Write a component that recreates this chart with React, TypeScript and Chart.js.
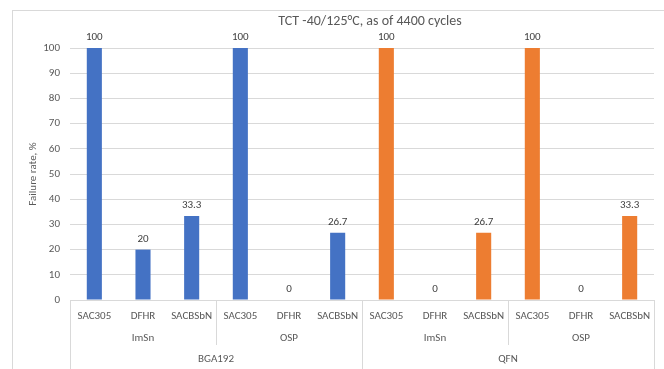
import React, { useEffect, useRef } from "react";
import { Chart, registerables } from "chart.js";

Chart.register(...registerables);

// Alloys per board finish, finishes per package
const alloys = ["SAC305", "DFHR", "SACBSbN", "SAC305", "DFHR", "SACBSbN", "SAC305", "DFHR", "SACBSbN", "SAC305", "DFHR", "SACBSbN"];
const finishes = ["ImSn", "OSP", "ImSn", "OSP"];
const packages = ["BGA192", "QFN"];
const failureRates = [100, 20, 33.3, 100, 0, 26.7, 100, 0, 26.7, 100, 0, 33.3];
const chartTitle = "TCT -40/125°C, as of 4400 cycles";
const yAxisTitle = "Failure rate, %";

const packageColors = ["#4472C4", "#ED7D31"];
const FONT = "Carlito, Lato, sans-serif";
const TEXT = "#595959";
const LINE = "#d9d9d9";

const barsPerPackage = alloys.length / packages.length;
const barsPerFinish = alloys.length / finishes.length;

const decor = {
  id: "decor",
  beforeDraw(chart: any) {
    const { ctx } = chart;
    ctx.save();
    ctx.strokeStyle = LINE;
    ctx.lineWidth = 1;
    ctx.strokeRect(12.5, 10.5, 800, 500);
    // chart title
    ctx.fillStyle = TEXT;
    ctx.font = `14px ${FONT}`;
    ctx.textAlign = "center";
    ctx.textBaseline = "middle";
    ctx.fillText(chartTitle, 370, 21);
    // y axis title
    ctx.font = `11px ${FONT}`;
    ctx.translate(33, 174);
    ctx.rotate(-Math.PI / 2);
    ctx.fillText(yAxisTitle, 0, 0);
    ctx.restore();
  },
  afterDatasetsDraw(chart: any) {
    const { ctx, chartArea } = chart;
    const x = chart.scales.x;
    const meta = chart.getDatasetMeta(0);
    const n = alloys.length;
    const cw = (chartArea.right - chartArea.left) / n;
    const edge = (i: number) => x.getPixelForValue(i) - cw / 2;
    const base = chartArea.bottom;
    ctx.save();
    // value labels above bars
    ctx.fillStyle = "#404040";
    ctx.font = `11px ${FONT}`;
    ctx.textAlign = "center";
    ctx.textBaseline = "middle";
    meta.data.forEach((bar: any, i: number) => {
      ctx.fillText(String(failureRates[i]), bar.x, bar.y - 10.5);
    });
    // axis baseline
    ctx.strokeStyle = LINE;
    ctx.lineWidth = 1;
    ctx.beginPath();
    ctx.moveTo(chartArea.left, base + 0.5);
    ctx.lineTo(chartArea.right, base + 0.5);
    // separators between finishes (short) and packages (full height)
    for (let i = 0; i <= n; i += barsPerFinish) {
      const px = Math.round(edge(i)) + 0.5;
      const full = i % barsPerPackage === 0;
      ctx.moveTo(px, base);
      ctx.lineTo(px, full ? 369 : base + 45);
    }
    ctx.stroke();
    // category labels
    ctx.fillStyle = TEXT;
    alloys.forEach((a, i) => ctx.fillText(a, x.getPixelForValue(i), base + 16));
    finishes.forEach((f, k) => {
      const cx = (edge(k * barsPerFinish) + edge((k + 1) * barsPerFinish)) / 2;
      ctx.fillText(f, cx, base + 38);
    });
    packages.forEach((p, k) => {
      const cx = (edge(k * barsPerPackage) + edge((k + 1) * barsPerPackage)) / 2;
      ctx.fillText(p, cx, base + 59);
    });
    ctx.restore();
  },
};

export default function App() {
  const ref = useRef<HTMLCanvasElement>(null);
  useEffect(() => {
    document.body.style.margin = "0";
    const chart = new Chart(ref.current!, {
      type: "bar",
      data: {
        labels: alloys,
        datasets: [
          {
            data: failureRates,
            backgroundColor: failureRates.map((_, i) => packageColors[Math.floor(i / barsPerPackage)]),
            categoryPercentage: 1,
            barPercentage: 0.31,
          },
        ],
      },
      options: {
        responsive: false,
        animation: false,
        layout: { padding: { left: 0, top: 48, right: 10, bottom: 69 } },
        plugins: { legend: { display: false }, tooltip: { enabled: false }, title: { display: false } },
        scales: {
          x: { display: false },
          y: {
            min: 0,
            max: 100,
            afterFit: (s: any) => {
              s.width = 70;
            },
            ticks: { stepSize: 10, padding: 10, color: TEXT, font: { family: FONT, size: 11 } },
            grid: { color: LINE, drawTicks: false },
            border: { display: false },
          },
        },
      },
      plugins: [decor],
    });
    return () => chart.destroy();
  }, []);
  return (
    <div style={{ position: "absolute", left: 0, top: 0, width: 664, height: 369, background: "#fff" }}>
      <canvas ref={ref} width={664} height={369} />
    </div>
  );
}
